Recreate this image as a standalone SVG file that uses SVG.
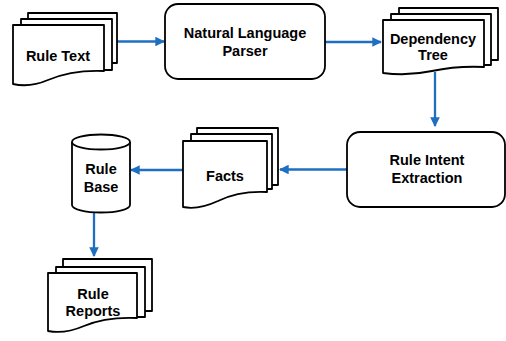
<svg xmlns="http://www.w3.org/2000/svg" width="506" height="341" viewBox="0 0 506 341">
<defs>
<style>
.s{fill:#fff;stroke:#000;stroke-width:1.8;stroke-linejoin:round}
.t{font-family:"Liberation Sans",Arial,sans-serif;font-weight:bold;font-size:14.5px;fill:#000;text-anchor:middle}
.c{fill:none;stroke:#1F6FC0;stroke-width:2.3}
</style>
<marker id="ah" viewBox="0 0 10 10" refX="9" refY="5" markerWidth="4.2" markerHeight="4.2" orient="auto" markerUnits="strokeWidth">
<path d="M0,0 L10,5 L0,10 Z" fill="#1F6FC0"/>
</marker>
</defs>
<rect width="506" height="341" fill="#fff"/>
<g id="connectors">
<line class="c" x1="117" y1="41.5" x2="164" y2="41.5" marker-end="url(#ah)"/>
<line class="c" x1="325" y1="42" x2="381" y2="42" marker-end="url(#ah)"/>
<line class="c" x1="435" y1="72" x2="435" y2="126" marker-end="url(#ah)"/>
<line class="c" x1="347" y1="169.5" x2="280" y2="169.5" marker-end="url(#ah)"/>
<line class="c" x1="183" y1="170" x2="131" y2="170" marker-end="url(#ah)"/>
<line class="c" x1="94" y1="212" x2="94" y2="256" marker-end="url(#ah)"/>
</g>
<g id="rule-text">
<rect class="s" x="28" y="13" width="89" height="50"/>
<rect class="s" x="21" y="19" width="91" height="51"/>
<path class="s" d="M13,25 H104 V71 C80,70 62,74 48,80 C34,86 22,86 13,84 Z"/>
<text class="t" x="58" y="61">Rule Text</text>
</g>
<g id="nl-parser">
<rect class="s" x="165" y="4" width="160" height="75" rx="13"/>
<text class="t" x="245" y="38">Natural Language</text>
<text class="t" x="245" y="56">Parser</text>
</g>
<g id="dependency-tree">
<rect class="s" x="399" y="8" width="99" height="52"/>
<rect class="s" x="391" y="14" width="100" height="51"/>
<path class="s" d="M383,20 H484 V67 C462,66 446,68 432,71 C418,74 398,75 383,73 Z"/>
<text class="t" x="433" y="44">Dependency</text>
<text class="t" x="433" y="60">Tree</text>
</g>
<g id="rule-intent">
<rect class="s" x="347" y="132" width="158" height="75" rx="13"/>
<text class="t" x="427" y="165">Rule Intent</text>
<text class="t" x="427" y="183">Extraction</text>
</g>
<g id="facts">
<rect class="s" x="197" y="128" width="81" height="57"/>
<rect class="s" x="191" y="134" width="81" height="55"/>
<path class="s" d="M183,141 H267 V192 C246,191 232,194 218,201 C205,207 193,209 183,207 Z"/>
<text class="t" x="225" y="181">Facts</text>
</g>
<g id="rule-base">
<path class="s" d="M72,142 V205 A29,7.5 0 0 0 130,205 V142"/>
<ellipse class="s" cx="101" cy="142" rx="29" ry="7.5"/>
<text class="t" x="101" y="174">Rule</text>
<text class="t" x="101" y="192">Base</text>
</g>
<g id="rule-reports">
<rect class="s" x="63" y="259" width="89" height="52"/>
<rect class="s" x="56" y="267" width="89" height="50"/>
<path class="s" d="M48,273 H137 V318 C114,317 98,320 84,326 C70,332 58,333 48,331 Z"/>
<text class="t" x="93" y="299">Rule</text>
<text class="t" x="93" y="316">Reports</text>
</g>
</svg>
